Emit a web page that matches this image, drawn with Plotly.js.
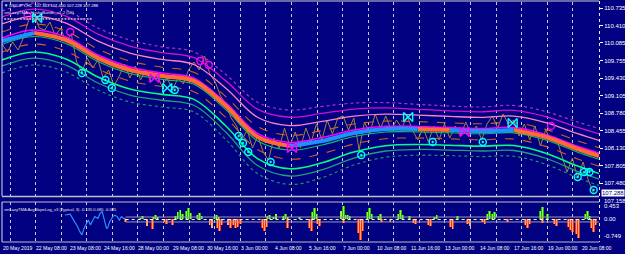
<!DOCTYPE html>
<html><head><meta charset="utf-8">
<script src="https://cdn.plot.ly/plotly-3.0.1.min.js"></script>
<style>html,body{margin:0;padding:0;background:#000080;}#chart{width:625px;height:254px;}</style>
</head><body><div id="chart"></div>
<script>
// ---- data (bar index = H1 bars from left edge) ----
const bandX = [0,30,60,90,120,150,180,210,240,270,300,330,360,390,420,450,480,510,540,560];
const center = [110.122,110.270,110.140,109.805,109.582,109.471,109.378,108.912,108.336,108.169,108.262,108.410,108.485,108.485,108.466,108.448,108.466,108.336,108.113,107.983];
const upOuterDot = [110.680,110.828,110.698,110.363,110.140,110.012,109.919,109.498,108.978,108.839,108.904,108.968,108.976,108.943,108.912,108.894,108.924,108.810,108.615,108.496];
const upOuter = [110.568,110.716,110.586,110.251,110.028,109.904,109.811,109.380,108.849,108.704,108.775,108.856,108.877,108.851,108.823,108.805,108.832,108.715,108.514,108.393];
const upPink = [110.438,110.586,110.456,110.121,109.898,109.778,109.685,109.244,108.699,108.548,108.625,108.726,108.763,108.744,108.719,108.701,108.725,108.605,108.397,108.274];
const upDash = [110.289,110.437,110.307,109.972,109.749,109.633,109.540,109.087,108.528,108.369,108.454,108.577,108.632,108.622,108.600,108.582,108.603,108.478,108.263,108.137];
const upInner = [110.178,110.326,110.196,109.861,109.638,109.525,109.432,108.971,108.400,108.236,108.326,108.466,108.534,108.531,108.511,108.493,108.512,108.384,108.163,108.035];
const loInner = [110.057,110.205,110.075,109.740,109.517,109.408,109.315,108.844,108.261,108.091,108.187,108.345,108.428,108.432,108.414,108.396,108.413,108.281,108.054,107.923];
const loDash = [109.917,110.065,109.935,109.600,109.377,109.272,109.179,108.697,108.100,107.923,108.026,108.205,108.305,108.317,108.302,108.284,108.298,108.162,107.928,107.794];
const loGreen = [109.769,109.917,109.787,109.452,109.229,109.129,109.036,108.541,107.930,107.745,107.856,108.057,108.174,108.196,108.184,108.166,108.177,108.036,107.795,107.658];
const loTeal = [109.657,109.805,109.675,109.340,109.117,109.020,108.927,108.424,107.801,107.611,107.727,107.945,108.076,108.104,108.094,108.076,108.085,107.941,107.694,107.555];
const loOuterDot = [109.527,109.675,109.545,109.210,108.987,108.894,108.801,108.287,107.652,107.455,107.578,107.815,107.961,107.997,107.990,107.972,107.978,107.830,107.577,107.436];
// centre line colour segments (index ranges into bandX): rising = blue, falling = orange
const risingSegs = [[0,1],[9,13],[14,16]];
const fallingSegs = [[1,9],[13,14],[16,19]];

// price path, one value every 5 bars
const priceStep = 5;
const price = [110.066,109.917,110.103,109.954,110.177,110.512,110.624,110.363,110.326,110.475,
110.215,110.363,110.103,110.252,109.731,109.545,109.805,109.619,109.768,109.433,
109.582,109.285,109.471,109.694,109.433,109.657,109.396,109.582,109.359,109.508,
109.285,109.433,109.210,109.433,109.322,109.582,109.731,109.582,109.843,109.508,
109.359,109.099,108.950,108.689,108.541,108.280,108.466,108.131,108.355,108.057,
107.908,108.317,108.131,108.503,108.169,108.429,108.131,108.503,108.243,108.578,
108.280,108.652,108.392,108.689,108.727,108.466,108.689,108.094,108.615,108.392,
108.764,108.503,108.727,108.466,108.652,108.503,108.727,108.466,108.280,108.503,
108.243,108.541,108.280,108.578,108.317,108.541,108.355,108.615,108.392,108.541,
108.280,108.578,108.727,108.503,108.764,108.578,108.652,108.355,108.578,108.280,
108.541,108.169,108.466,108.280,108.317,107.983,107.685,107.945,107.573,107.871,
107.536,107.288];

// band-touch signals
const cyanCircX = [75,97,103,162,222,226,231,252,337,404,451,540,546,551,555];
const cyanCircY = [109.526,109.396,109.247,109.210,108.355,108.224,108.057,107.871,108.001,108.243,108.243,107.592,107.685,107.685,107.350];
const magCircX = [24,64,186,194,515];
const magCircY = [110.587,110.289,109.750,109.675,108.541];
const cyanTieX = [33,155,381,479];
const cyanTieY = [110.549,109.247,108.708,108.596];
const magTieX = [143,272,434];
const magTieY = [109.433,108.131,108.429];

// AvgSlope sub-window
const posX = [130,132,142,144,146,163,165,167,169,173,175,177,183,185,187,199,201,203,249,251,255,257,264,266,268,279,291,293,295,318,320,322,324,326,343,345,347,353,355,372,374,376,382,406,408,427,455,457,460,462,505,507,512,547,549,551];
const posVal = [.06,.11,.10,.15,.08,.12,.25,.34,.18,.30,.40,.22,.14,.23,.12,.10,.15,.08,.12,.15,.10,.18,.12,.18,.10,.08,.25,.40,.20,.30,.46,.15,.15,.12,.25,.40,.20,.12,.18,.20,.34,.15,.12,.10,.15,.12,.18,.29,.20,.25,.30,.43,.18,.20,.31,.12];
const negX = [116,136,141,152,154,160,195,197,202,204,206,212,214,217,219,221,224,244,246,248,268,288,290,296,298,320,334,336,338,356,364,386,388,400,402,421,423,437,439,451,453,474,491,493,495,507,518,520,531,533,535,539,541,553,555,557];
const negVal = [-.08,-.23,-.34,-.10,-.15,-.18,-.20,-.29,-.30,-.40,-.20,-.20,-.29,-.20,-.29,-.25,-.15,-.30,-.40,-.25,-.29,-.30,-.40,-.15,-.23,-.12,-.45,-.69,-.40,-.08,-.10,-.12,-.15,-.18,-.23,-.25,-.34,-.15,-.23,-.10,-.15,-.08,-.20,-.29,-.15,-.12,-.15,-.23,-.25,-.36,-.43,-.50,-.63,-.30,-.43,-.20];
const oscX = [59,64,68,71,73,75,77,79,81,83,85,87,90,92,94,96,98,99,101,104,106,108,110,112,114,116];
const oscY = [.155,.18,-.075,-.25,-.42,-.53,-.30,-.13,-.02,-.19,-.02,.10,.04,.21,.27,-.02,-.30,-.30,-.08,.10,.15,.10,-.02,.10,.04,.04];
const levels = [0.085, -0.085];
const levelSpan = [116, 560];

// axis labels
const priceTicks = [110.735,110.410,110.085,109.755,109.430,109.105,108.780,108.455,108.130,107.805,107.480];
const priceTickText = ["110.735","110.410","110.085","109.755","109.430","109.105","108.780","108.455","108.130","107.805","107.480"];
const dateLabels = ["20 May 2019","22 May 08:00","23 May 08:00","24 May 16:00","28 May 00:00","29 May 08:00","30 May 16:00","3 Jun 00:00","4 Jun 08:00","5 Jun 16:00","7 Jun 00:00","10 Jun 08:00","11 Jun 16:00","13 Jun 00:00","14 Jun 08:00","17 Jun 16:00","19 Jun 00:00","20 Jun 08:00"];
const dateBars = [0,31,63,95,127,159,191,223,255,287,319,351,383,415,447,479,511,543];
const subTicks = [0.453, 0.00, -0.749];
const subTickText = ["0.453","0.00","-0.749"];
const lastBid = 107.288;
const lowEdgeLabel = "107.158";

// ---- drawing ----
const W = 625, H = 254;
const px = v => v / W, py = v => 1 - v / H;
const FONT = 'Liberation Sans, Arial, sans-serif';
const traces = [];
function ln(x, y, color, width, dash, yaxis, shape) {
  traces.push({type:'scatter', mode:'lines', x:x, y:y, yaxis:yaxis||'y',
    line:{color:color, width:width, dash:dash||'solid', shape:shape||'spline', smoothing:1}, hoverinfo:'skip'});
}
// price bars path
ln(price.map((_, i) => i * priceStep), price, '#a48240', 1, 'solid', 'y', 'linear');
// bands
ln(bandX, upOuterDot, '#b030c8', 1.2, 'dot');
ln(bandX, upOuter, '#d010d0', 1.3);
ln(bandX, upPink, '#ff80c0', 1.3);
ln(bandX, upDash, '#c8641e', 1.1, 'dash');
ln(bandX, loDash, '#c8641e', 1.1, 'dash');
ln(bandX, loOuterDot, '#20906a', 1.2, 'dot');
ln(bandX, loTeal, '#20a078', 1.3);
ln(bandX, loGreen, '#00ff80', 1.6);
ln(bandX, loInner, '#10c060', 1.1);
ln(bandX, upInner, '#ff00ff', 1.5);
fallingSegs.forEach(s => ln(bandX.slice(s[0], s[1] + 1), center.slice(s[0], s[1] + 1), '#ff6a35', 4.2));
risingSegs.forEach(s => ln(bandX.slice(s[0], s[1] + 1), center.slice(s[0], s[1] + 1), '#1e90ff', 4.2));
// signals
function mk(x, y, color, symbol, size) {
  traces.push({type:'scatter', mode:'markers', x:x, y:y, hoverinfo:'skip',
    marker:{symbol:symbol, size:size, color:color, line:{color:color, width:1.4}}});
}
mk(cyanCircX, cyanCircY, '#00ffff', 'circle-open-dot', 7);
mk(magCircX, magCircY, '#ff00ff', 'circle-open', 7);
mk(cyanTieX, cyanTieY, '#00ffff', 'bowtie-open', 9);
mk(magTieX, magTieY, '#ff00ff', 'bowtie-open', 9);
// sub window
ln(levelSpan, [levels[0], levels[0]], '#9a9ab4', 1, 'solid', 'y2', 'linear');
ln(levelSpan, [levels[1], levels[1]], '#9a9ab4', 1, 'solid', 'y2', 'linear');
ln(levelSpan, [0, 0], '#ffffff', 1, 'dot', 'y2', 'linear');
function bars(x, y, color, width) {
  traces.push({type:'bar', x:x, y:y, yaxis:'y2', width:width, marker:{color:color, line:{width:0}}, hoverinfo:'skip'});
}
bars(posX, posVal, '#20b010', 2.6);
bars(posX, posVal, '#90ff30', 1.0);
bars(negX, negVal, '#ff2a10', 2.6);
bars(negX, negVal, '#ffb070', 1.0);
ln(oscX, oscY, '#2a8cff', 1.2, 'solid', 'y2', 'linear');

const ann = [];
function txt(x, y, t, size, color, opts) {
  ann.push(Object.assign({xref:'paper', yref:'paper', x:x, y:y, text:t, showarrow:false,
    xanchor:'left', yanchor:'middle', font:{family:FONT, size:size, color:color}}, opts || {}));
}
txt(px(2), py(5.5), '▼ USDJPY,H1  107.343 107.400 107.228 107.288', 4.2, '#ffffff');
txt(px(2), py(12.5), 'smLazyTMA+HuskyBands_v1.2 (56)', 4.3, '#e8e8e8');
txt(px(2), py(19), '■ ■ ■ ■ ■ ■ ■ ■ ■ ■ ■ ■ ■ ■ ■ ■ ■ ■ ■ ■ ■ ■ ■ ■ ■ ■ ■ ■', 3.6, '#c0a0c8');
txt(px(2), py(209), 'smLazyTMA AvgSlopeLog_v3 (Typical, 3) -0.135 0.085 -0.085', 4.1, '#e8e8e8');
dateLabels.forEach((d, i) => ann.push({xref:'x', yref:'paper', x:dateBars[i], y:py(248), text:d, showarrow:false,
  xanchor:'left', yanchor:'middle', xshift:-1, font:{family:FONT, size:5.1, color:'#ffffff'}}));
txt(px(602), py(200.5), lowEdgeLabel, 6, '#ffffff');
subTicks.forEach((v, i) => ann.push({xref:'paper', yref:'y2', x:px(602), y:v, text:subTickText[i], showarrow:false,
  xanchor:'left', yanchor: i === 2 ? 'bottom' : 'middle', font:{family:FONT, size:6, color:'#ffffff'}}));
ann.push({xref:'paper', yref:'y', x:px(601), y:lastBid, text:lastBid.toFixed(3), showarrow:false,
  xanchor:'left', yanchor:'middle', bgcolor:'#ffffff', borderpad:0, font:{family:FONT, size:6, color:'#000080'}});

const shapes = [];
function seg(x0, y0, x1, y1, color, width, dash) {
  shapes.push({type:'line', xref:'paper', yref:'paper', x0:px(x0), y0:py(y0), x1:px(x1), y1:py(y1),
    line:{color:color, width:width, dash:dash||'solid'}});
}
seg(2, 1, 599, 1, '#d0d0d0', 1);
seg(2, 1, 2, 196, '#e0e0e0', 1);
seg(2, 196.5, 599, 196.5, '#c0c0c0', 1.5);
seg(2, 202, 599, 202, '#c0c0c0', 1);
seg(2, 242, 599, 242, '#c0c0c0', 1);
seg(2, 202, 2, 242, '#e0e0e0', 1);
seg(599.5, 1, 599.5, 242, '#e8e8e8', 1, 'dot');

const layout = {
  width:W, height:H, margin:{l:0, r:0, t:0, b:0},
  paper_bgcolor:'#000080', plot_bgcolor:'#000080', showlegend:false,
  barmode:'overlay', bargap:0,
  xaxis:{domain:[px(2), px(599)], range:[0, 560], showgrid:true, gridcolor:'#c8c8d8', griddash:'dot', gridwidth:1,
    tick0:7.5, dtick:24, showticklabels:false, ticks:'', zeroline:false, showline:false, fixedrange:true},
  yaxis:{domain:[py(196), py(2)], range:[107.239, 110.847], side:'right', tickmode:'array', tickvals:priceTicks, ticktext:priceTickText,
    ticks:'outside', ticklen:3, tickcolor:'#ffffff', tickfont:{family:FONT, size:6, color:'#ffffff'},
    showgrid:false, zeroline:false, showline:false, fixedrange:true},
  yaxis2:{domain:[py(242), py(202)], range:[-0.776, 0.603], anchor:'x', showticklabels:false, showgrid:false,
    zeroline:false, showline:false, ticks:'', fixedrange:true},
  annotations:ann, shapes:shapes
};
Plotly.newPlot('chart', traces, layout, {staticPlot:true, displayModeBar:false});
</script></body></html>
